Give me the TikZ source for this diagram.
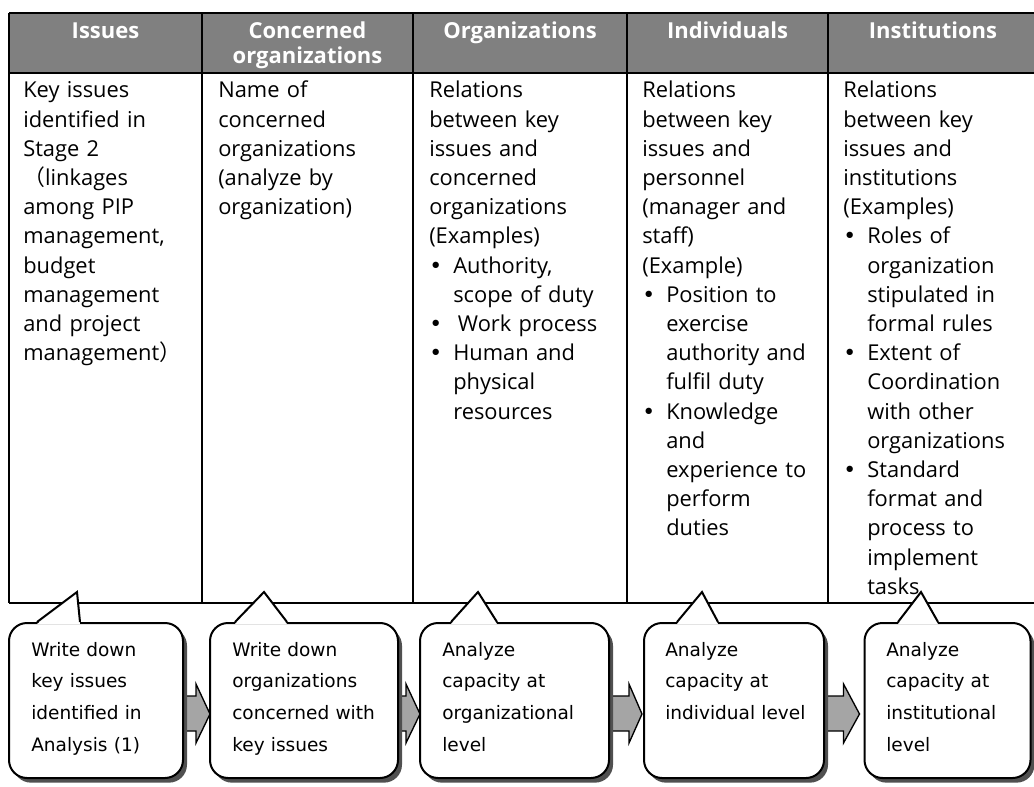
\documentclass[tikz,border=0pt]{standalone}
\usepackage{fontspec}
\setmainfont{Open Sans}
\newfontfamily\callfont{DejaVu Sans}
\newfontfamily\cjk{Noto Sans CJK JP}
\usetikzlibrary{calc}
\usetikzlibrary{shadows}

\definecolor{headgray}{RGB}{128,128,128}
\definecolor{arrowgray}{RGB}{165,165,165}
\definecolor{shadowgray}{RGB}{80,80,80}

\pgfdeclarelayer{background}
\pgfsetlayers{background,main}

\newcommand{\bul}{\makebox[18pt][l]{{\callfont\textbullet}}}
\newcommand{\ind}{\hspace*{18pt}}

\tikzset{
  rule/.style={line width=1.5pt},
  colhead/.style={text=white, font=\fontsize{16.5}{18.75}\selectfont\bfseries, align=center, text width=150pt, inner sep=0pt, anchor=base},
  coltext/.style={font=\fontsize{16.4}{21.9}\selectfont, align=left, text width=150pt, inner sep=0pt, anchor=base west},
  callbox/.style={draw, line width=1.5pt, fill=white, rounded corners=13.5pt, inner sep=0pt, anchor=north west, minimum height=116.25pt,
    drop shadow={shadow xshift=3pt, shadow yshift=-3.5pt, fill=shadowgray, opacity=1}},
  calltext/.style={font=\callfont\fontsize{13.9}{23.8}\selectfont, align=left, text width=130pt, inner sep=0pt, anchor=base west},
  blockarrow/.style={draw, line width=1pt, fill=arrowgray},
}

\begin{document}
\begin{tikzpicture}[x=0.75pt,y=-0.75pt]
\useasboundingbox (0,0) rectangle (1034,787);

% table
\fill[headgray] (9,13) rectangle (1034,73);
\draw[rule] (9,13) -- (1034,13);
\draw[rule] (9,73) -- (1034,73);
\draw[rule] (9,603) -- (1034,603);
\draw[rule] (9,13) -- (9,603);
\draw[rule] (202,13) -- (202,603);
\draw[rule] (413,13) -- (413,603);
\draw[rule] (627,13) -- (627,603);
\draw[rule] (828,13) -- (828,603);

% column heads
\node[colhead] (hd1) at (105.5,39) {Issues};
\node[colhead] (hd2) at (307.5,39) {Concerned\\organizations};
\node[colhead] (hd3) at (520,39) {Organizations};
\node[colhead] (hd4) at (727.5,39) {Individuals};
\node[colhead] (hd5) at (933,39) {Institutions};

% column texts
\node[coltext] (tx1) at (23,98) {Key issues\\identified in\\Stage 2\\{\cjk （}linkages\\among PIP\\management,\\budget\\management\\and project\\management{\cjk ）}};
\node[coltext] (tx2) at (218,98) {Name of\\concerned\\organizations\\(analyze by\\organization)};
\node[coltext] (tx3) at (429,98) {Relations\\between key\\issues and\\concerned\\organizations\\(Examples)\\
  \bul Authority,\\\ind scope of duty\\\bul\hspace{3.5pt}Work process\\\bul Human and\\\ind physical\\\ind resources};
\node[coltext] (tx4) at (642,98) {Relations\\between key\\issues and\\personnel\\(manager and\\staff)\\(Example)\\
  \bul Position to\\\ind exercise\\\ind authority and\\\ind fulfil duty\\\bul Knowledge\\\ind and\\\ind experience to\\\ind perform\\\ind duties};
\node[coltext] (tx5) at (843,98) {Relations\\between key\\issues and\\institutions\\(Examples)\\
  \bul Roles of\\\ind organization\\\ind stipulated in\\\ind formal rules\\\bul Extent of\\\ind Coordination\\\ind with other\\\ind organizations\\
  \bul Standard\\\ind format and\\\ind process to\\\ind implement\\\ind tasks};

% callouts
\node[callbox, minimum width=130.5pt] (c1) at (8,622) {};
\node[callbox, minimum width=141pt] (c2) at (209,622) {};
\node[callbox, minimum width=141.75pt] (c3) at (419,622) {};
\node[callbox, minimum width=135pt] (c4) at (643,622) {};
\node[callbox, minimum width=124.5pt] (c5) at (863.5,622) {};

% pointers
\fill[white] ($(c1.north west)+(29,2)$) -- ($(c1.north west)+(69,-30)$) -- ($(c1.north west)+(72,2)$) -- cycle;
\draw[rule] ($(c1.north west)+(29,0)$) -- ($(c1.north west)+(69,-30)$) -- ($(c1.north west)+(72,0)$);
\fill[white] ($(c2.north west)+(26,2)$) -- ($(c2.north west)+(55,-30)$) -- ($(c2.north west)+(78,2)$) -- cycle;
\draw[rule] ($(c2.north west)+(26,0)$) -- ($(c2.north west)+(55,-30)$) -- ($(c2.north west)+(78,0)$);
\fill[white] ($(c3.north west)+(32,2)$) -- ($(c3.north west)+(59,-30)$) -- ($(c3.north west)+(78,2)$) -- cycle;
\draw[rule] ($(c3.north west)+(32,0)$) -- ($(c3.north west)+(59,-30)$) -- ($(c3.north west)+(78,0)$);
\fill[white] ($(c4.north west)+(34,2)$) -- ($(c4.north west)+(59,-30)$) -- ($(c4.north west)+(75,2)$) -- cycle;
\draw[rule] ($(c4.north west)+(34,0)$) -- ($(c4.north west)+(59,-30)$) -- ($(c4.north west)+(75,0)$);
\fill[white] ($(c5.north west)+(34.5,2)$) -- ($(c5.north west)+(57.5,-30)$) -- ($(c5.north west)+(74.5,2)$) -- cycle;
\draw[rule] ($(c5.north west)+(34.5,0)$) -- ($(c5.north west)+(57.5,-30)$) -- ($(c5.north west)+(74.5,0)$);

% callout texts
\node[calltext] (ct1) at ($(c1.north west)+(23,34)$) {Write down\\key issues\\identified in\\Analysis (1)};
\node[calltext] (ct2) at ($(c2.north west)+(23,34)$) {Write down\\organizations\\concerned with\\key issues};
\node[calltext] (ct3) at ($(c3.north west)+(23,34)$) {Analyze\\capacity at\\organizational\\level};
\node[calltext] (ct4) at ($(c4.north west)+(22,34)$) {Analyze\\capacity at\\individual level};
\node[calltext] (ct5) at ($(c5.north west)+(22.5,34)$) {Analyze\\capacity at\\institutional\\level};

% block arrows between callouts
\begin{pgfonlayer}{background}
\draw[blockarrow] ($(c1.east)+(-2,-4.5)$) -- ($(c2.west)+(-13,-4.5)$) -- ($(c2.west)+(-13,-16.5)$) -- ($(c2.west)+(1,13.5)$)
  -- ($(c2.west)+(-13,42.5)$) -- ($(c2.west)+(-13,30.5)$) -- ($(c1.east)+(-2,30.5)$) -- cycle;
\draw[blockarrow] ($(c2.east)+(-2,-4.5)$) -- ($(c3.west)+(-13,-4.5)$) -- ($(c3.west)+(-13,-16.5)$) -- ($(c3.west)+(1,13.5)$)
  -- ($(c3.west)+(-13,42.5)$) -- ($(c3.west)+(-13,30.5)$) -- ($(c2.east)+(-2,30.5)$) -- cycle;
\draw[blockarrow] ($(c3.east)+(-2,-4.5)$) -- ($(c4.west)+(-14,-4.5)$) -- ($(c4.west)+(-14,-16.5)$) -- ($(c4.west)+(-1,13.5)$)
  -- ($(c4.west)+(-14,42.5)$) -- ($(c4.west)+(-14,30.5)$) -- ($(c3.east)+(-2,30.5)$) -- cycle;
\draw[blockarrow] ($(c4.east)+(-2,-4.5)$) -- ($(c5.west)+(-20,-4.5)$) -- ($(c5.west)+(-20,-16.5)$) -- ($(c5.west)+(-4,13.5)$)
  -- ($(c5.west)+(-20,42.5)$) -- ($(c5.west)+(-20,30.5)$) -- ($(c4.east)+(-2,30.5)$) -- cycle;
\end{pgfonlayer}
\end{tikzpicture}
\end{document}
